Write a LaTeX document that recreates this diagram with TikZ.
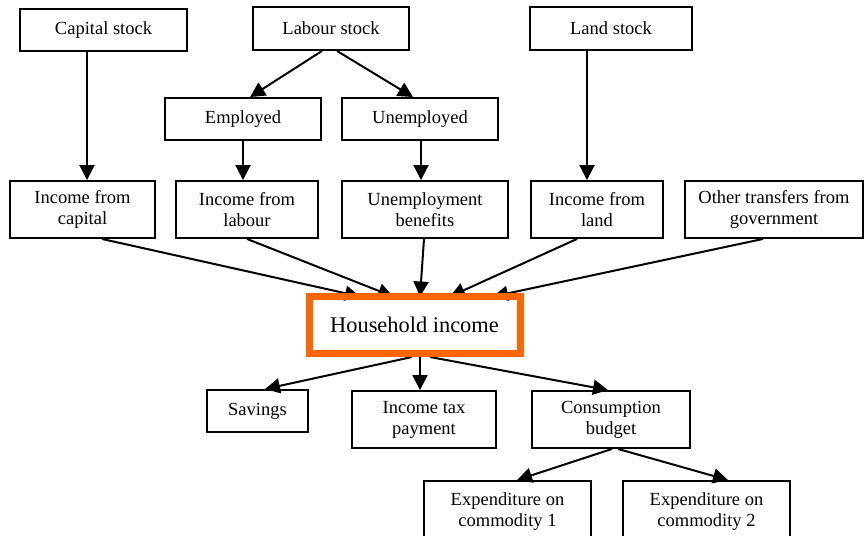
\documentclass[tikz,border=0pt]{standalone}
\usepackage{fontspec}
\setmainfont{Liberation Serif}
\usetikzlibrary{arrows.meta}
\definecolor{hhorange}{RGB}{255,102,0}
\begin{document}
\begin{tikzpicture}[x=1pt,y=-1pt,
  box/.style={draw=black,line width=1.9pt,rectangle,align=center,inner sep=0pt,
    font=\fontsize{18.5}{21}\selectfont},
  arr/.style={line width=2pt,-{Triangle[length=15pt,width=15pt]}},
  hhbox/.style={draw=hhorange,line width=7pt,rectangle,align=center,inner sep=0pt,
    font=\fontsize{22.4}{26}\selectfont}]
\useasboundingbox (0,0) rectangle (864,535);
\clip (0,0) rectangle (864,535);

% stocks
\node[box,minimum width=167pt,minimum height=42pt] (cap) at (103.5,30) {Capital stock};
\node[box,minimum width=156pt,minimum height=43pt] (lab) at (331,28.5) {Labour stock};
\node[box,minimum width=162pt,minimum height=43pt] (land) at (611,28.5) {Land stock};

% labour split
\node[box,minimum width=156pt,minimum height=42pt] (emp) at (243,119) {Employed};
\node[box,minimum width=156pt,minimum height=42pt] (unemp) at (420,119) {Unemployed};

% income sources
\node[box,minimum width=145pt,minimum height=57pt] (inccap) at (82.5,209.5) {Income from\\capital};
\node[box,minimum width=142pt,minimum height=57pt] (inclab) at (247,209.5) {Income from\\labour};
\node[box,minimum width=166pt,minimum height=57pt] (unben) at (425,209.5) {Unemployment\\benefits};
\node[box,minimum width=132pt,minimum height=57pt] (incland) at (597,209.5) {Income from\\land};
\node[box,minimum width=178pt,minimum height=57pt] (other) at (774,209.5) {Other transfers from\\government};

% household income
\node[hhbox,minimum width=211pt,minimum height=57pt] (hh) at (414.5,325) {Household income};

% uses of income
\node[box,minimum width=101pt,minimum height=42pt] (sav) at (257.5,411) {Savings};
\node[box,minimum width=144pt,minimum height=57pt] (tax) at (424,419.5) {Income tax\\payment};
\node[box,minimum width=158pt,minimum height=57pt] (cons) at (611,419.5) {Consumption\\budget};

% expenditure
\node[box,minimum width=167pt,minimum height=62pt] (exp1) at (507.5,512) {Expenditure on\\commodity 1};
\node[box,minimum width=167pt,minimum height=62pt] (exp2) at (706.5,512) {Expenditure on\\commodity 2};

% connectors
\draw[arr] ([xshift=-16.5pt]cap.south) -- ([xshift=4.5pt]inccap.north);
\draw[arr] ([xshift=-9pt]lab.south) -- ([xshift=7pt]emp.north);
\draw[arr] ([xshift=6pt]lab.south) -- ([xshift=-7pt]unemp.north);
\draw[arr] (emp.south) -- ([xshift=-4pt]inclab.north);
\draw[arr] ([xshift=1pt]unemp.south) -- ([xshift=-4pt]unben.north);
\draw[arr] ([xshift=-24pt]land.south) -- ([xshift=-10pt]incland.north);

\draw[arr] ([xshift=19.5pt]inccap.south) -- ([xshift=-54.5pt,yshift=-3.5pt]hh.north);
\draw[arr] (inclab.south) -- ([xshift=-21.5pt,yshift=-3.5pt]hh.north);
\draw[arr] ([xshift=-1pt]unben.south) -- ([xshift=5.5pt,yshift=-3.5pt]hh.north);
\draw[arr] ([xshift=-20pt]incland.south) -- ([xshift=35.5pt,yshift=-3.5pt]hh.north);
\draw[arr] ([xshift=-11pt]other.south) -- ([xshift=78.5pt,yshift=-3.5pt]hh.north);

\draw[arr] ([xshift=-2.5pt]hh.south) -- ([xshift=7.5pt]sav.north);
\draw[arr] ([xshift=5.5pt]hh.south) -- ([xshift=-4pt]tax.north);
\draw[arr] ([xshift=15.5pt]hh.south) -- ([xshift=-3pt]cons.north);

\draw[arr] ([xshift=1pt]cons.south) -- ([xshift=9.5pt]exp1.north);
\draw[arr] ([xshift=7pt]cons.south) -- ([xshift=21.5pt]exp2.north);

% orange frame drawn over the connector ends
\node[hhbox,minimum width=211pt,minimum height=57pt] at (hh.center) {};
\end{tikzpicture}
\end{document}
